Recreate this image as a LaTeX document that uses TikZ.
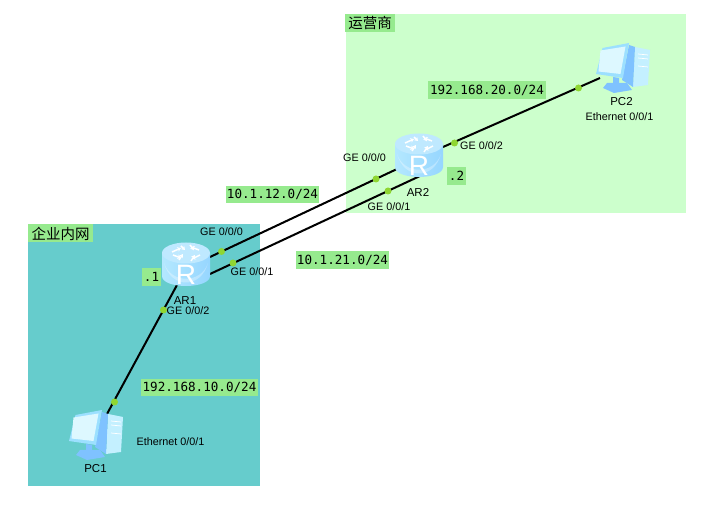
\documentclass[tikz,border=0pt]{standalone}
\usepackage{fontspec}
\setmainfont{Liberation Sans}
\setmonofont{DejaVu Sans Mono}
\newfontfamily\cjk{Noto Sans CJK SC}
\usetikzlibrary{arrows.meta}
\definecolor{zoneA}{HTML}{CCFFCC}
\definecolor{zoneB}{HTML}{66CCCC}
\definecolor{tagbg}{HTML}{96EA8E}
\definecolor{portdot}{HTML}{8FD632}
\definecolor{bodyL}{HTML}{B4E8FF}
\definecolor{bodyM}{HTML}{84CCFF}
\definecolor{bodyR}{HTML}{96D6FF}
\definecolor{bodyT}{HTML}{BFE9FF}
\definecolor{pcframe}{HTML}{9CE0FF}
\definecolor{pcscreen}{HTML}{DDF8FF}
\definecolor{pcdark}{HTML}{7FC2FF}
\definecolor{pcfront}{HTML}{C4F0FF}
\tikzset{
  x=1pt,y=-1pt,
  link/.style={draw=black,line width=2pt},
  portdot/.style={circle,fill=portdot,inner sep=0pt,minimum size=7pt},
  iflabel/.style={inner sep=0pt,font=\fontsize{10.8}{12}\selectfont,text=black},
  devlabel/.style={inner sep=0pt,font=\fontsize{11.5}{12}\selectfont,text=black},
  nettag/.style={fill=tagbg,inner sep=0pt,minimum height=17.5pt,font=\ttfamily\fontsize{12.6}{14}\selectfont},
  ziptag/.style={fill=tagbg,inner sep=0pt,minimum height=18pt,font=\cjk\fontsize{14.5}{16}\selectfont},
  routericon/.pic={
    \shade[left color=bodyL,middle color=bodyM,right color=bodyR]
      (-24,0) -- (-24,23) .. controls (-24,36.3) and (24,36.3) .. (24,23) -- (24,0) -- cycle;
    \fill[white,opacity=.3] (-22,10) .. controls (-15,31) and (15,31) .. (22,10)
      .. controls (15,36) and (-15,36) .. (-22,10) -- cycle;
    \fill[bodyT] (0,0) ellipse [x radius=24,y radius=10.5];
    \foreach \a/\b/\c/\d in {-14/-1/-5/-5,-5/-7/-1/-3,13/-3/5/-6,4/-8/8/-3,-13/2/-5/5,-7/7/-3/1,14/2/6/6,5/8/9/2}{
      \draw[white,line width=1.5pt,-{Stealth[length=3.6pt,width=4.6pt]}] (\a,\b) -- (\c,\d);
    }
    \node[text=white,inner sep=0pt,font=\fontsize{28}{28}\selectfont] at (0,21.5) {R};
  },
  pcicon/.pic={
    \fill[pcdark] (11,41) -- (31,41) -- (36,48) -- (18,51) -- (7,46) -- cycle;
    \fill[pcfront] (39,5) -- (54,8) -- (52,43) -- (37,45) -- cycle;
    \fill[pcdark] (33,3) -- (39,5) -- (37,45) -- (26,38) -- cycle;
    \foreach \yy in {12,16,24}{ \draw[white,line width=.7pt] (42,\yy) -- (52,\yy+1); }
    \fill[pcframe] (6.5,6) -- (33,1) -- (27,36) -- (0,32) -- cycle;
    \fill[pcscreen] (4.5,8.5) -- (29.5,4.5) -- (24.5,32) -- (2.5,29.5) -- cycle;
    \fill[pcdark] (17,35) -- (23,36) -- (23,44) -- (17,44) -- cycle;
  },
}
\begin{document}
\begin{tikzpicture}
\useasboundingbox[fill=white] (0,0) rectangle (710,510);
% zones
\fill[zoneA] (346,14) rectangle (686,213);
\fill[zoneB] (28,224) rectangle (260,486);
\node[ziptag,minimum width=50pt] (zoneAtag) at (370,23) {运营商};
\node[ziptag,minimum width=65pt] (zoneBtag) at (60.5,233.5) {企业内网};
% device anchors
\coordinate (AR1a) at (210,257);
\coordinate (AR1b) at (210,274);
\coordinate (AR1c) at (177,285);
\coordinate (AR2a) at (397,169);
\coordinate (AR2b) at (420,176);
\coordinate (AR2c) at (443,147);
\coordinate (PC1p) at (107,414);
\coordinate (PC2p) at (600,78);
% connectors
\draw[link] (AR1a) -- (AR2a);
\draw[link] (AR1b) -- (AR2b);
\draw[link] (AR2c) -- (PC2p);
\draw[link] (AR1c) -- (PC1p);
% devices
\pic at (186,253) {routericon};
\pic at (419,144) {routericon};
\pic at (69,409) {pcicon};
\pic at (596,42) {pcicon};
% port dots
\node[portdot] (d1) at (221.5,251.5) {};
\node[portdot] (d2) at (376,179) {};
\node[portdot] (d3) at (233,263) {};
\node[portdot] (d4) at (388,191) {};
\node[portdot] (d5) at (454.5,143) {};
\node[portdot] (d6) at (578.5,88) {};
\node[portdot] (d7) at (163.5,310) {};
\node[portdot] (d8) at (114.5,402) {};
% interface labels
\node[iflabel] (l1) at (221.5,232) {GE 0/0/0};
\node[iflabel] (l2) at (252,272) {GE 0/0/1};
\node[iflabel] (l3) at (188,311) {GE 0/0/2};
\node[iflabel] (l4) at (364.5,158) {GE 0/0/0};
\node[iflabel] (l5) at (389,207) {GE 0/0/1};
\node[iflabel] (l6) at (481.5,146) {GE 0/0/2};
\node[iflabel] (l7) at (619.5,117) {Ethernet 0/0/1};
\node[iflabel] (l8) at (170.5,442) {Ethernet 0/0/1};
% device labels
\node[devlabel] (n1) at (185,300.5) {AR1};
\node[devlabel] (n2) at (418,192) {AR2};
\node[devlabel] (n3) at (95.5,469) {PC1};
\node[devlabel] (n4) at (621.5,102) {PC2};
% network tags
\node[nettag,minimum width=118pt] (t1) at (487,90) {192.168.20.0/24};
\node[nettag,minimum width=93pt] (t2) at (272.5,194.5) {10.1.12.0/24};
\node[nettag,minimum width=93pt] (t3) at (342.5,260) {10.1.21.0/24};
\node[nettag,minimum width=117pt] (t4) at (199.5,387.5) {192.168.10.0/24};
\node[nettag,minimum width=19pt] (t5) at (151.5,277) {.1};
\node[nettag,minimum width=19pt] (t6) at (456.5,176) {.2};
\end{tikzpicture}
\end{document}
